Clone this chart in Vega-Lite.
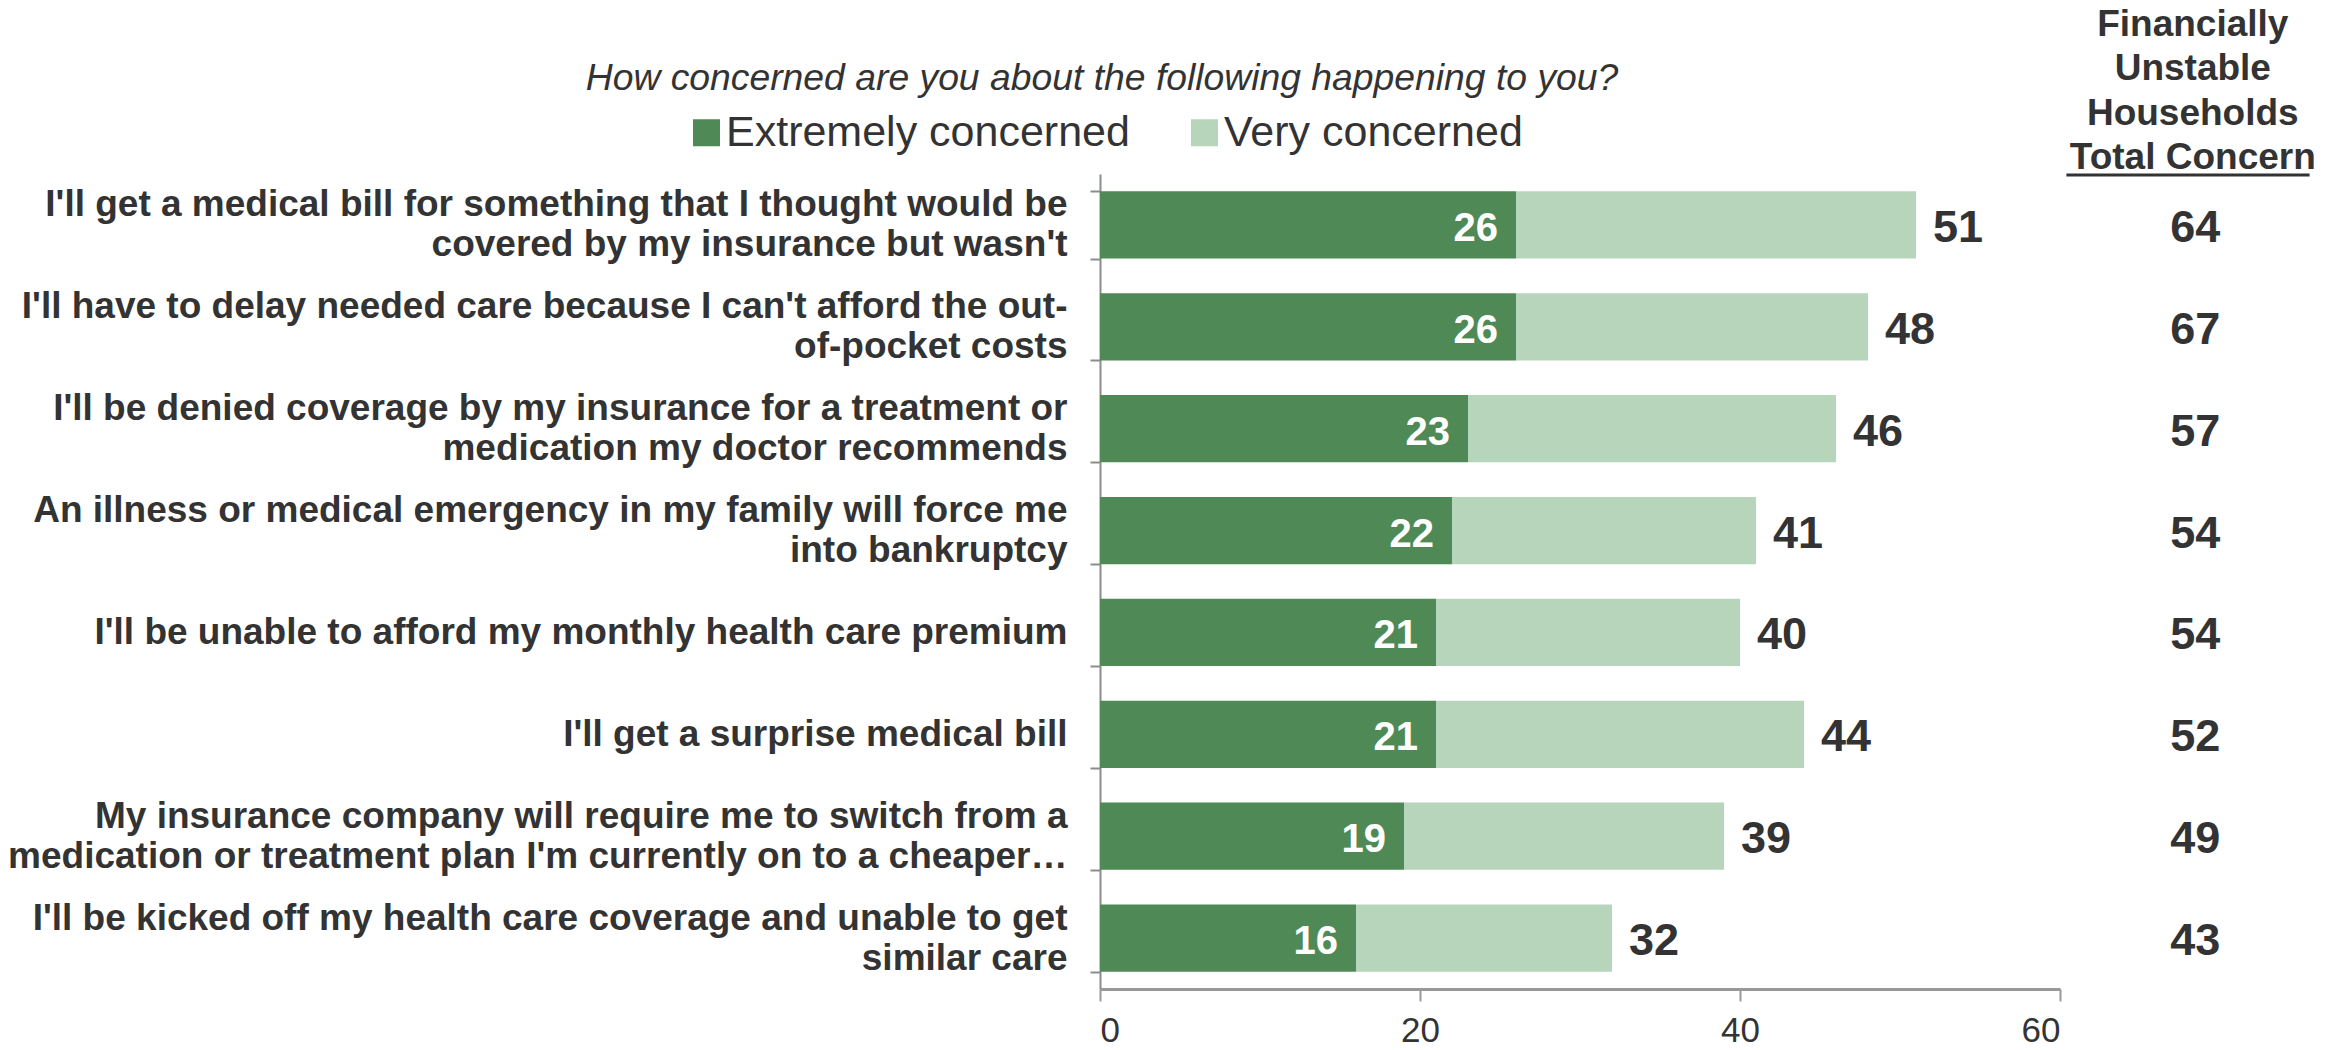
{
  "$schema": "https://vega.github.io/schema/vega-lite/v6.json",
  "width": 960,
  "height": 815,
  "autosize": "none",
  "padding": {"left": 1100, "top": 174, "right": 276, "bottom": 61},
  "background": "white",
  "config": {"view": {"stroke": null}, "font": "Liberation Sans"},
  "title": {
    "text": "How concerned are you about the following happening to you?",
    "fontSize": 37.3,
    "fontStyle": "italic",
    "fontWeight": "normal",
    "color": "#333333",
    "font": "Liberation Sans",
    "anchor": "middle",
    "frame": "group",
    "dx": -478,
    "dy": 107,
    "offset": 15
  },
  "datasets": {
    "items": [
      {"item": "I'll get a medical bill for something that I thought would be\ncovered by my insurance but wasn't", "extremely": 26, "very": 25, "total": 51, "unstable": 64},
      {"item": "I'll have to delay needed care because I can't afford the out-\nof-pocket costs", "extremely": 26, "very": 22, "total": 48, "unstable": 67},
      {"item": "I'll be denied coverage by my insurance for a treatment or\nmedication my doctor recommends", "extremely": 23, "very": 23, "total": 46, "unstable": 57},
      {"item": "An illness or medical emergency in my family will force me\ninto bankruptcy", "extremely": 22, "very": 19, "total": 41, "unstable": 54},
      {"item": "I'll be unable to afford my monthly health care premium", "extremely": 21, "very": 19, "total": 40, "unstable": 54},
      {"item": "I'll get a surprise medical bill", "extremely": 21, "very": 23, "total": 44, "unstable": 52},
      {"item": "My insurance company will require me to switch from a\nmedication or treatment plan I'm currently on to a cheaper…", "extremely": 19, "very": 20, "total": 39, "unstable": 49},
      {"item": "I'll be kicked off my health care coverage and unable to get\nsimilar care", "extremely": 16, "very": 16, "total": 32, "unstable": 43}
    ]
  },
  "data": {"name": "items"},
  "layer": [
    {
      "transform": [{"fold": ["extremely", "very"], "as": ["level", "value"]}],
      "mark": {"type": "bar"},
      "encoding": {
        "y": {
          "field": "item",
          "type": "nominal",
          "sort": null,
          "scale": {"paddingInner": 0.34, "paddingOuter": 0.17},
          "axis": {
            "title": null,
            "domainColor": "#8c8c8c",
            "domainWidth": 2,
            "tickColor": "#8c8c8c",
            "tickWidth": 2,
            "tickSize": 10,
            "tickBand": "extent",
            "labelFont": "Liberation Sans",
            "labelFontSize": 37,
            "labelFontWeight": "bold",
            "labelColor": "#333333",
            "labelLimit": 1100,
            "labelPadding": 23,
            "labelLineHeight": 40,
            "labelAlign": "right",
            "labelBaseline": "middle",
            "labelOffset": {"condition": {"test": "indexof(datum.label, '\\n') >= 0", "value": -20}, "value": 0},
            "labelExpr": "split(datum.label, '\\n')"
          }
        },
        "x": {
          "field": "value",
          "type": "quantitative",
          "stack": "zero",
          "scale": {"domain": [0, 60]},
          "axis": {
            "title": null,
            "values": [0, 20, 40, 60],
            "grid": false,
            "domainColor": "#999999",
            "domainWidth": 3,
            "tickColor": "#999999",
            "tickWidth": 2,
            "tickSize": 12,
            "labelFont": "Liberation Sans",
            "labelFontSize": 35,
            "labelColor": "#333333",
            "labelPadding": 12
          }
        },
        "color": {
          "field": "level",
          "type": "nominal",
          "scale": {"domain": ["extremely", "very"], "range": ["#4f8a56", "#b7d5bb"]},
          "legend": {
            "title": null,
            "orient": "none",
            "legendX": -415,
            "legendY": -63,
            "direction": "horizontal",
            "padding": 0,
            "symbolType": "square",
            "symbolSize": 729,
            "symbolStrokeWidth": 0,
            "labelFont": "Liberation Sans",
            "labelFontSize": 43,
            "labelColor": "#333333",
            "labelLimit": 0,
            "labelOffset": -2,
            "columnPadding": 53,
            "labelExpr": "datum.label == 'extremely' ? 'Extremely concerned' : 'Very concerned'"
          }
        },
        "order": {"field": "level"}
      }
    },
    {
      "mark": {"type": "text", "align": "right", "baseline": "middle", "dx": -18, "dy": 4, "color": "white", "fontWeight": "bold", "fontSize": 40},
      "encoding": {
        "y": {"field": "item", "type": "nominal", "sort": null},
        "x": {"field": "extremely", "type": "quantitative"},
        "text": {"field": "extremely"}
      }
    },
    {
      "mark": {"type": "text", "align": "left", "baseline": "middle", "dx": 17, "dy": 3, "color": "#333333", "fontWeight": "bold", "fontSize": 45},
      "encoding": {
        "y": {"field": "item", "type": "nominal", "sort": null},
        "x": {"field": "total", "type": "quantitative"},
        "text": {"field": "total"}
      }
    },
    {
      "mark": {"type": "text", "align": "center", "baseline": "middle", "dy": 3, "color": "#333333", "fontWeight": "bold", "fontSize": 45},
      "encoding": {
        "y": {"field": "item", "type": "nominal", "sort": null},
        "x": {"datum": 68.45},
        "text": {"field": "unstable"}
      }
    },
    {
      "data": {"values": [{"header": "Financially Unstable Households Total Concern"}]},
      "mark": {
        "type": "text",
        "align": "center",
        "baseline": "middle",
        "color": "#333333",
        "fontWeight": "bold",
        "fontSize": 37,
        "lineHeight": 44.5,
        "dy": -200,
        "text": ["Financially", "Unstable", "Households", "Total Concern"]
      },
      "encoding": {
        "y": {"datum": "I'll get a medical bill for something that I thought would be\ncovered by my insurance but wasn't"},
        "x": {"datum": 68.3}
      }
    },
    {
      "data": {"values": [{"header": "underline"}]},
      "mark": {"type": "rule", "color": "#333333", "strokeWidth": 3, "yOffset": -50},
      "encoding": {
        "y": {"datum": "I'll get a medical bill for something that I thought would be\ncovered by my insurance but wasn't"},
        "x": {"datum": 60.4},
        "x2": {"datum": 75.6}
      }
    }
  ]
}
